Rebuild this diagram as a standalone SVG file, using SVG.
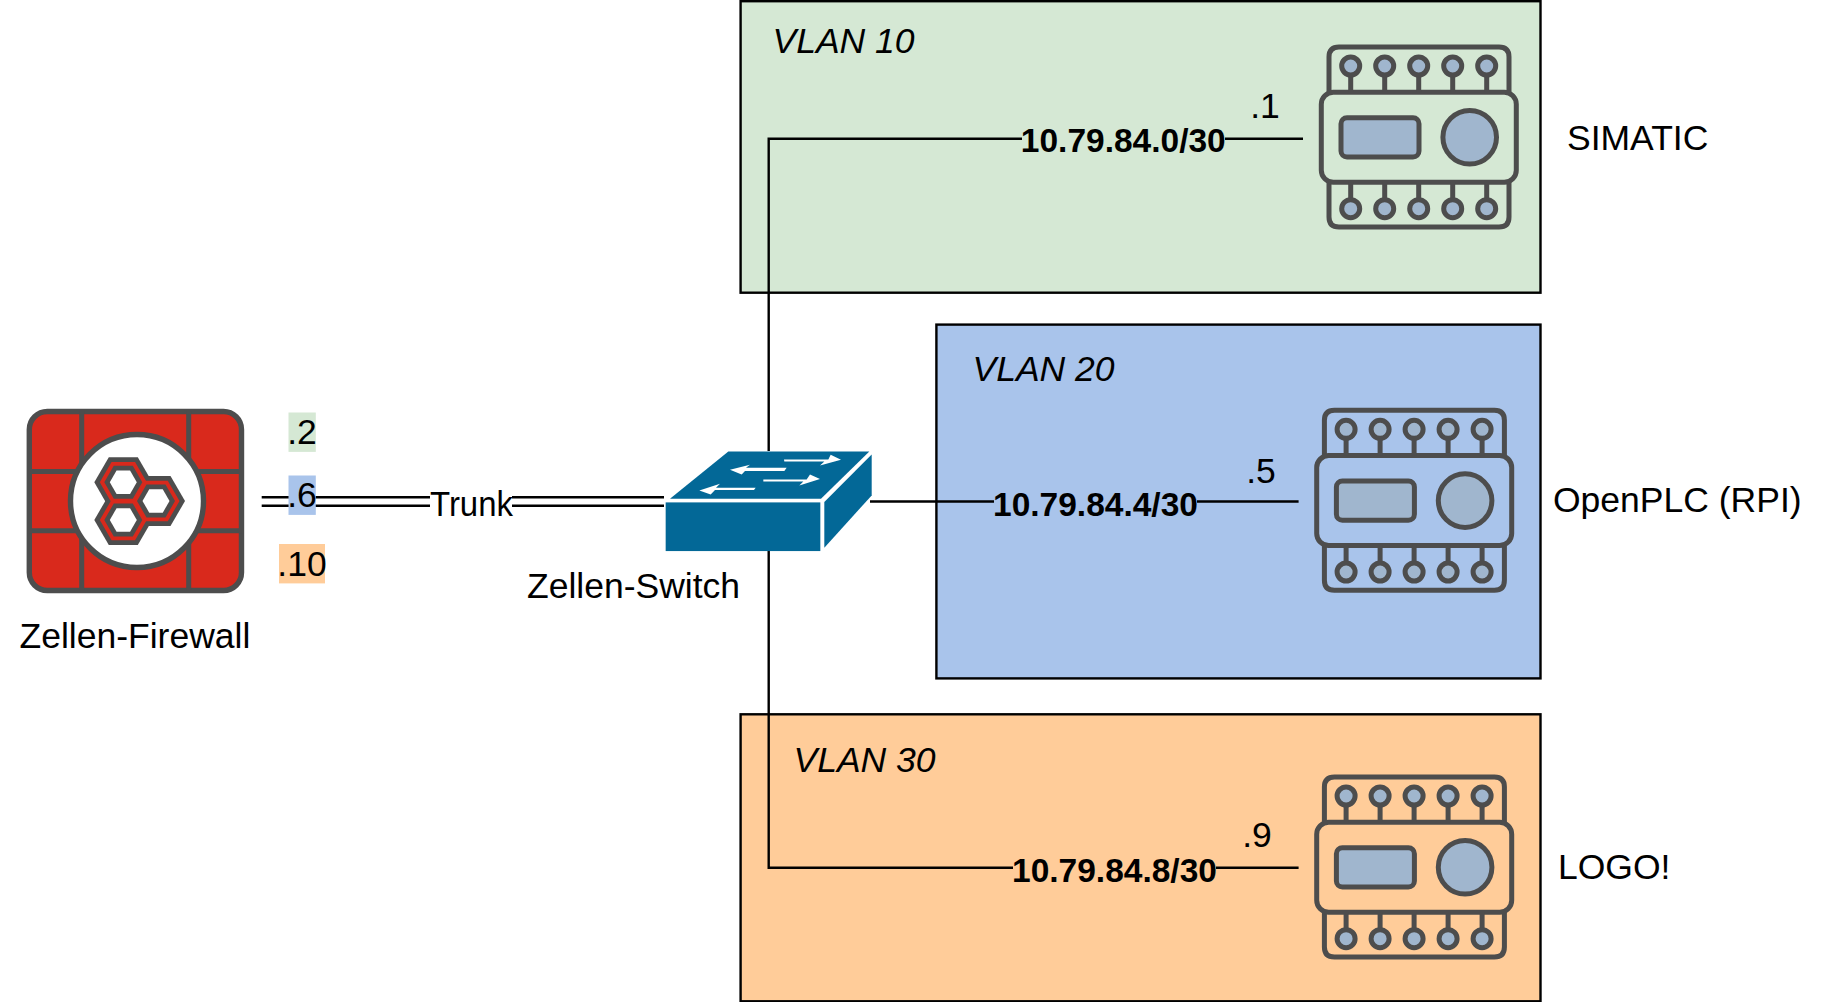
<svg xmlns="http://www.w3.org/2000/svg" xmlns:xlink="http://www.w3.org/1999/xlink" width="1823" height="1002" viewBox="0 0 1823 1002">
<style>
text{font-family:"Liberation Sans",Arial,sans-serif;font-size:35.5px;fill:#000}
.i{font-style:italic}
.b{font-weight:bold;font-size:33.5px;text-anchor:middle}
.m{text-anchor:middle}
.zone{stroke:#000;stroke-width:2.4}
.c{fill:none;stroke:#000;stroke-width:2.4}
.g{fill:#4d4d4d}.r{fill:#d9291c}.w{fill:#fff}
.p{fill:none;stroke:#4d4d4d;stroke-width:5;stroke-linejoin:round}
.sw{fill:#036897}
</style>
<defs>
<polygon id="hex" points="1,0 .5,.866 -.5,.866 -1,0 -.5,-.866 .5,-.866"/>
<g id="plc">
<path class="p" d="M29 62V27Q29 17 39 17H199Q209 17 209 27V62M29 152V187Q29 197 39 197H199Q209 197 209 187V152"/>
<rect class="p" x="21.3" y="62.3" width="195" height="90" rx="12"/>
<path class="p" d="M50.7 45V62M84.7 45V62M118.7 45V62M152.7 45V62M186.7 45V62M50.7 152V170M84.7 152V170M118.7 152V170M152.7 152V170M186.7 152V170"/>
<g class="p" style="fill:#a0b6ce">
<circle cx="50.7" cy="36" r="9"/><circle cx="84.7" cy="36" r="9"/><circle cx="118.7" cy="36" r="9"/><circle cx="152.7" cy="36" r="9"/><circle cx="186.7" cy="36" r="9"/>
<circle cx="50.7" cy="178.7" r="9"/><circle cx="84.7" cy="178.7" r="9"/><circle cx="118.7" cy="178.7" r="9"/><circle cx="152.7" cy="178.7" r="9"/><circle cx="186.7" cy="178.7" r="9"/>
<rect x="41" y="87.7" width="78" height="39.3" rx="6"/>
<circle cx="169.7" cy="107.3" r="26.8"/>
</g>
</g>
</defs>
<g id="vlan10"><rect class="zone" x="740.6" y="1.2" width="799.9" height="291.5" fill="#d5e8d4"/><text class="i" x="772.5" y="52.5">VLAN 10</text></g>
<g id="vlan20"><rect class="zone" x="936.4" y="324.6" width="604.1" height="353.8" fill="#a9c4eb"/><text class="i" x="972.5" y="380.5">VLAN 20</text></g>
<g id="vlan30"><rect class="zone" x="740.6" y="714.3" width="799.9" height="287" fill="#ffcc99"/><text class="i" x="793.5" y="772">VLAN 30</text></g>
<g id="connectors">
<path class="c" d="M768.7 451V138.8H1303"/>
<path class="c" d="M768.7 550V867.8H1298.6"/>
<path class="c" d="M870 501.5H1298.6"/>
<path class="c" d="M261.7 497.2H664M261.7 505.8H664"/>
</g>
<g id="firewall">
<rect x="29.3" y="411.5" width="212.2" height="179" rx="18" class="r" stroke="#4d4d4d" stroke-width="5.4"/>
<path d="M81.7 411V590M188.7 411V590M29 471.5H242M29 530.8H242" fill="none" stroke="#4d4d4d" stroke-width="5"/>
<circle cx="137" cy="501" r="66.5" class="w" stroke="#4d4d4d" stroke-width="5.4"/>
<use href="#hex" class="g" transform="translate(123.3 482.3) scale(29)"/>
<use href="#hex" class="g" transform="translate(156 501) scale(29)"/>
<use href="#hex" class="g" transform="translate(123.3 520) scale(29)"/>
<use href="#hex" class="r" transform="translate(123.3 482.3) scale(23.5)"/>
<use href="#hex" class="r" transform="translate(156 501) scale(23.5)"/>
<use href="#hex" class="r" transform="translate(123.3 520) scale(23.5)"/>
<use href="#hex" class="g" transform="translate(123.3 482.3) scale(19)"/>
<use href="#hex" class="g" transform="translate(156 501) scale(19)"/>
<use href="#hex" class="g" transform="translate(123.3 520) scale(19)"/>
<use href="#hex" class="w" transform="translate(123.3 482.3) scale(13.5)"/>
<use href="#hex" class="w" transform="translate(156 501) scale(13.5)"/>
<use href="#hex" class="w" transform="translate(123.3 520) scale(13.5)"/>
<text x="19.5" y="647.5">Zellen-Firewall</text>
</g>
<g id="addr-firewall">
<rect x="288.5" y="412.5" width="27.3" height="39.4" fill="#d5e8d4"/><text class="m" x="302" y="444">.2</text>
<rect x="288.5" y="475.5" width="27.3" height="39.4" fill="#a9c4eb"/><text class="m" x="302" y="507">.6</text>
<rect x="279" y="544" width="46" height="39.4" fill="#ffcc99"/><text class="m" x="302" y="576">.10</text>
</g>
<g id="trunk-label"><rect x="430" y="485" width="82" height="34" fill="#fff"/><text x="430" y="515.5" textLength="83" lengthAdjust="spacingAndGlyphs">Trunk</text></g>
<g id="switch">
<g transform="translate(640 430.4) scale(.33333)">
<rect class="sw" x="77" y="216" width="464" height="146"/>
<polygon class="sw" points="90,205 265,63 688,63 543,205"/>
<polygon class="sw" points="553,215 695,72 695,195 553,352"/>
<g fill="#fff">
<polygon points="432,87 565,87 572,73 603,88 540,105 553,93 433,93"/>
<polygon points="270,118 330,103 318,112 440,112 433,122 315,122 305,132"/>
<polygon points="370,147 500,147 510,132 540,146 478,165 490,153 370,153"/>
<polygon points="178,180 240,160 228,172 347,172 342,179 225,179 212,192"/>
</g>
</g>
<text x="527" y="597.5">Zellen-Switch</text>
</g>
<g id="net10"><rect x="1022" y="124" width="203" height="34" fill="#d5e8d4"/><text class="b" x="1123.3" y="152">10.79.84.0/30</text><text class="m" x="1265" y="118">.1</text></g>
<g id="net20"><rect x="994" y="487" width="203" height="34" fill="#a9c4eb"/><text class="b" x="1095.5" y="515.5">10.79.84.4/30</text><text class="m" x="1261" y="482.5">.5</text></g>
<g id="net30"><rect x="1013" y="853" width="203" height="34" fill="#ffcc99"/><text class="b" x="1114.5" y="882">10.79.84.8/30</text><text class="m" x="1257" y="847">.9</text></g>
<g id="simatic"><use href="#plc" transform="translate(1300 30)"/><text x="1567" y="149.5">SIMATIC</text></g>
<g id="openplc"><use href="#plc" transform="translate(1295.4 393.3)"/><text x="1553" y="512">OpenPLC (RPI)</text></g>
<g id="logo"><use href="#plc" transform="translate(1295.4 760)"/><text x="1558" y="878.5">LOGO!</text></g>
</svg>
